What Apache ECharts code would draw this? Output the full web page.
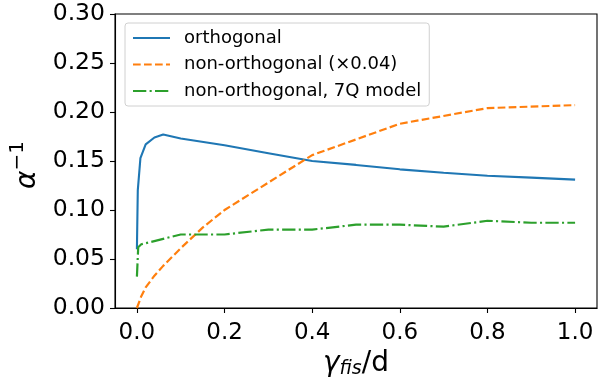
<!DOCTYPE html>
<html>
<head>
<meta charset="utf-8">
<script src="https://cdn.jsdelivr.net/npm/echarts@6/dist/echarts.min.js"></script>
<style>
  html, body { margin: 0; padding: 0; background: #fff; }
  #main { width: 602px; height: 379px; }
</style>
</head>
<body>
<div id="main"></div>
<script>
// tick labels
var xTicks = [0, 0.2, 0.4, 0.6, 0.8, 1.0];
// orthogonal
var orthX = [0, 0.002, 0.008, 0.02, 0.04, 0.06, 0.1, 0.2, 0.3, 0.4, 0.5, 0.6, 0.7, 0.8, 0.9, 1.0];
var orthY = [0.060, 0.120, 0.153, 0.167, 0.174, 0.177, 0.173, 0.166, 0.158, 0.150, 0.146, 0.1415, 0.138, 0.135, 0.133, 0.131];
// non-orthogonal (x0.04)
var nonX = [0, 0.01, 0.02, 0.04, 0.06, 0.08, 0.1, 0.15, 0.2, 0.4, 0.6, 0.8, 1.0];
var nonY = [0.000, 0.012, 0.021, 0.033, 0.043, 0.052, 0.061, 0.082, 0.100, 0.156, 0.188, 0.204, 0.207];
// non-orthogonal, 7Q model
var q7X = [0, 0.003, 0.01, 0.1, 0.2, 0.3, 0.4, 0.5, 0.6, 0.7, 0.8, 0.9, 1.0];
var q7Y = [0.032, 0.062, 0.065, 0.075, 0.075, 0.080, 0.080, 0.085, 0.085, 0.083, 0.089, 0.087, 0.087];

function pairs(xs, ys) {
  var out = [];
  for (var i = 0; i < xs.length; i++) out.push([xs[i], ys[i]]);
  return out;
}

var font = 'DejaVu Sans';
var myChart = echarts.init(document.getElementById('main'));
myChart.setOption({
  animation: false,
  textStyle: { fontFamily: font },
  grid: {
    left: 115, right: 5, top: 14, bottom: 71,
    outerBoundsMode: 'none',
    show: true, borderColor: '#000', borderWidth: 1.1
  },
  legend: {
    orient: 'vertical',
    left: 125, top: 23,
    padding: [5, 8, 5, 7],
    itemWidth: 37, itemHeight: 14, itemGap: 6.5,
    backgroundColor: 'rgba(255,255,255,0.8)',
    borderColor: '#d0d0d0', borderWidth: 1, borderRadius: 3,
    itemStyle: { opacity: 0 },
    textStyle: { fontFamily: font, fontSize: 18, color: '#000', lineHeight: 20, padding: [0, 0, 0, 9] },
    data: ['orthogonal', 'non-orthogonal (\u00d70.04)', 'non-orthogonal, 7Q model']
  },
  xAxis: {
    type: 'value', min: -0.05, max: 1.05,
    name: '{g|\u03b3}{s|fis}{d|/d}',
    nameLocation: 'middle', nameGap: 35,
    nameTextStyle: {
      rich: {
        g: { fontFamily: font, fontStyle: 'italic', fontSize: 28, color: '#000', lineHeight: 30 },
        s: { fontFamily: font, fontStyle: 'italic', fontSize: 19, color: '#000', lineHeight: 30, verticalAlign: 'bottom', padding: [10, 0, 0, 0] },
        d: { fontFamily: font, fontSize: 28, color: '#000', lineHeight: 30 }
      }
    },
    axisLine: { onZero: false, lineStyle: { color: '#000', width: 1.1 } },
    axisTick: { length: 5, lineStyle: { color: '#000', width: 1.1 }, customValues: xTicks },
    axisLabel: {
      fontFamily: font, fontSize: 23, color: '#000', margin: 14,
      customValues: xTicks,
      formatter: function (v) { return v.toFixed(1); }
    },
    splitLine: { show: false }
  },
  yAxis: {
    type: 'value', min: 0, max: 0.3, interval: 0.05,
    name: '{a|\u03b1}{s|\u22121}',
    nameLocation: 'middle', nameGap: 70, nameRotate: 90,
    nameTextStyle: {
      padding: [0, 8, 0, 0],
      rich: {
        a: { fontFamily: font, fontStyle: 'italic', fontSize: 28, color: '#000', lineHeight: 34, verticalAlign: 'bottom' },
        s: { fontFamily: font, fontSize: 20, color: '#000', lineHeight: 34, verticalAlign: 'top' }
      }
    },
    axisLine: { show: true, onZero: false, lineStyle: { color: '#000', width: 1.1 } },
    axisTick: { show: true, length: 5, lineStyle: { color: '#000', width: 1.1 } },
    axisLabel: {
      fontFamily: font, fontSize: 23.5, color: '#000', margin: 10,
      formatter: function (v) { return v.toFixed(2); }
    },
    splitLine: { show: false }
  },
  series: [
    {
      name: 'orthogonal', type: 'line', symbol: 'none',
      data: pairs(orthX, orthY),
      color: '#1f77b4',
      lineStyle: { color: '#1f77b4', width: 2.1 }
    },
    {
      name: 'non-orthogonal (\u00d70.04)', type: 'line', symbol: 'none',
      data: pairs(nonX, nonY),
      color: '#ff7f0e',
      lineStyle: { color: '#ff7f0e', width: 2.2, type: [7.7, 3.3] }
    },
    {
      name: 'non-orthogonal, 7Q model', type: 'line', symbol: 'none',
      data: pairs(q7X, q7Y),
      color: '#2ca02c',
      lineStyle: { color: '#2ca02c', width: 2.2, type: [13.3, 3.3, 2.1, 3.3] }
    }
  ]
});
</script>
</body>
</html>
